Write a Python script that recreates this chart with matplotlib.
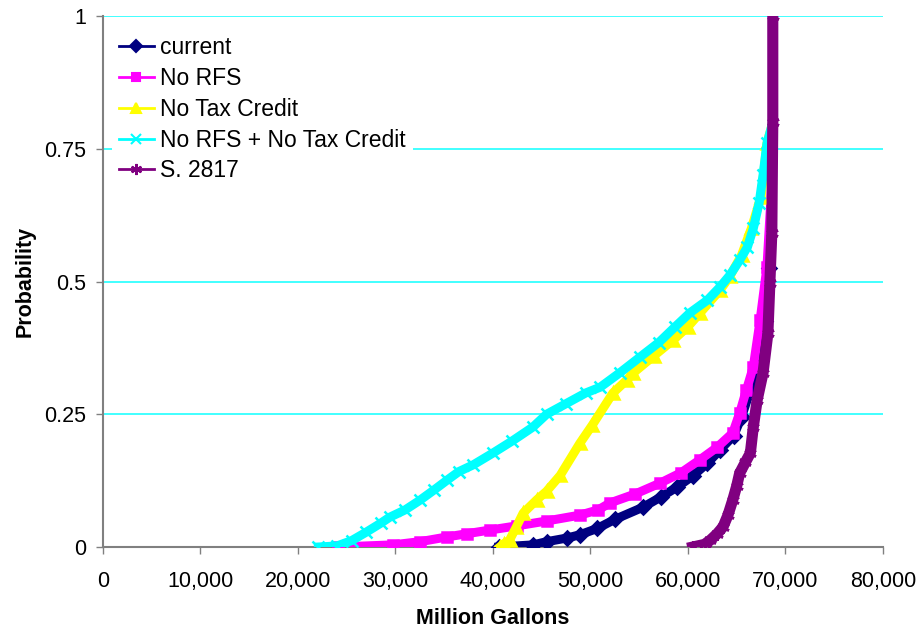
import matplotlib
matplotlib.use("Agg")
import matplotlib.pyplot as plt
from matplotlib.lines import Line2D
from matplotlib.ticker import FuncFormatter

plt.rcParams["font.family"] = ["Liberation Sans", "DejaVu Sans"]

# Cumulative distributions of production (million gallons) per policy case
current_x = [40600, 44100, 45500, 47600, 48900, 50700, 52500, 55400, 57200,
             58900, 60500, 62000, 63300, 64700, 65500, 66300, 67000, 67500,
             67900, 68300, 68650, 68700, 68700]
current_p = [0.000, 0.004, 0.010, 0.017, 0.023, 0.035, 0.052, 0.075, 0.094,
             0.113, 0.134, 0.158, 0.183, 0.210, 0.245, 0.290, 0.335, 0.378,
             0.425, 0.525, 0.650, 0.800, 1.000]

no_rfs_x = [24100, 29700, 32500, 35300, 37300, 39700, 42500, 45500, 48900,
            50800, 52000, 54600, 57100, 59300, 61200, 63000, 64600, 65300,
            66000, 66700, 67400, 68100, 68650, 68700]
no_rfs_p = [0.000, 0.004, 0.010, 0.019, 0.025, 0.032, 0.040, 0.049, 0.060,
            0.070, 0.083, 0.100, 0.120, 0.140, 0.164, 0.188, 0.215, 0.252,
            0.296, 0.339, 0.427, 0.527, 0.700, 1.000]

no_tax_x = [40700, 41100, 41700, 42400, 43100, 44500, 45500, 46900, 48900,
            50200, 52300, 53700, 54400, 56500, 58500, 60000, 61200, 63300,
            64300, 65500, 66500, 67500, 68100, 68700, 68700]
no_tax_p = [0.000, 0.006, 0.013, 0.038, 0.064, 0.089, 0.105, 0.135, 0.195,
            0.230, 0.290, 0.314, 0.328, 0.360, 0.390, 0.415, 0.440, 0.484,
            0.510, 0.550, 0.600, 0.660, 0.760, 0.800, 1.000]

no_both_x = [22100, 24000, 25500, 27000, 28500, 29400, 31000, 32500, 34000,
             35300, 36500, 38000, 40000, 42000, 44100, 45500, 47500, 49500,
             51000, 53000, 55100, 57000, 58700, 60200, 62000, 63300, 64300,
             65300, 66100, 66700, 67300, 67700, 68100, 68700, 68700]
no_both_p = [0.000, 0.002, 0.012, 0.028, 0.045, 0.056, 0.070, 0.088, 0.108,
             0.126, 0.142, 0.155, 0.177, 0.200, 0.226, 0.250, 0.270, 0.290,
             0.301, 0.328, 0.358, 0.385, 0.415, 0.441, 0.465, 0.490, 0.512,
             0.540, 0.565, 0.600, 0.648, 0.700, 0.760, 0.800, 1.000]

s2817_x = [60500, 61700, 62300, 63000, 63600, 64100, 64600, 65000, 65300,
           65900, 66400, 66700, 67100, 67700, 68200, 68400, 68600, 68700, 68700]
s2817_p = [0.000, 0.005, 0.013, 0.025, 0.038, 0.060, 0.089, 0.115, 0.139,
           0.160, 0.177, 0.226, 0.277, 0.328, 0.403, 0.497, 0.591, 0.800, 1.000]

series = [
    ("current", current_x, current_p, "#000080", "D", 7, 6.5),
    ("No RFS", no_rfs_x, no_rfs_p, "#FF00FF", "s", 7, 6.5),
    ("No Tax Credit", no_tax_x, no_tax_p, "#FFFF00", "^", 8, 6.5),
    ("No RFS + No Tax Credit", no_both_x, no_both_p, "#00FFFF", "x", 8, 6.5),
    ("S. 2817", s2817_x, s2817_p, "#800080", (6, 2, 0), 9, 8),
]

fig = plt.figure(figsize=(9.21, 6.31), dpi=100)
ax = fig.add_axes([0.1118, 0.1331, 0.8469, 0.8415])

handles = []
for name, xs, ps, color, marker, ms, lw in series:
    # the upper tails run together under the S. 2817 curve; skip their markers
    if name == "S. 2817":
        every = None
    elif name in ("current", "No RFS"):
        every = [i for i, p in enumerate(ps) if p < 0.6]
    else:
        every = [i for i, p in enumerate(ps) if p < 0.77]
    ax.plot(xs, ps, color=color, lw=lw, solid_joinstyle="round",
            marker=marker, ms=ms, mew=1.8, mec=color, mfc=color,
            markevery=every, zorder=3)
    handles.append(Line2D([], [], color=color, lw=2, marker=marker,
                          ms=ms - 1, mew=1.5, mec=color, mfc=color, label=name))

ax.set_xlim(0, 80000)
ax.set_ylim(0, 1)
ax.set_xticks(range(0, 80001, 10000))
ax.set_yticks([0, 0.25, 0.5, 0.75, 1])
ax.xaxis.set_major_formatter(FuncFormatter(lambda v, _: f"{int(v):,}"))
ax.set_yticklabels(["0", "0.25", "0.5", "0.75", "1"])

ax.set_axisbelow(True)
ax.grid(axis="y", color="#33FFFF", lw=1.3)
for side in ("top", "right"):
    ax.spines[side].set_visible(False)
for side in ("left", "bottom"):
    ax.spines[side].set_color("#808080")
    ax.spines[side].set_linewidth(1.5)
ax.tick_params(axis="both", direction="out", length=5, width=1, color="#808080",
               labelsize=15.5, labelcolor="black")
ax.tick_params(axis="x", pad=12)
ax.tick_params(axis="y", pad=7)

ax.set_xlabel("Million Gallons", fontsize=15.5, fontweight="bold", labelpad=12)
ax.set_ylabel("Probability", fontsize=15.5, fontweight="bold", labelpad=6)

leg = ax.legend(handles=handles, loc="upper left", bbox_to_anchor=(0.012, 0.975),
                fontsize=16.5, frameon=True, fancybox=False, framealpha=1,
                facecolor="white", edgecolor="none", handlelength=1.5,
                handletextpad=0.3, labelspacing=0.34, borderpad=0.3,
                borderaxespad=0)
leg.set_zorder(5)

fig.savefig("out.png", dpi=100, facecolor="white")
